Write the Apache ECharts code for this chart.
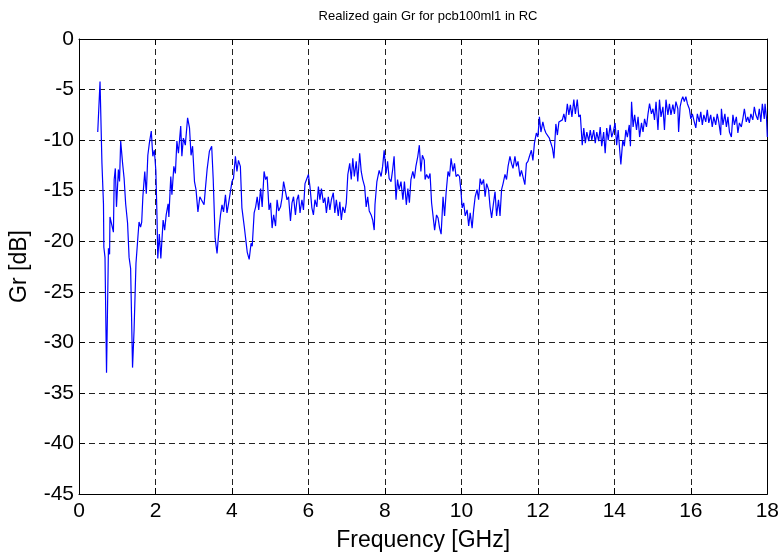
<!DOCTYPE html>
<html>
<head>
<meta charset="utf-8">
<script src="https://cdn.jsdelivr.net/npm/echarts@6/dist/echarts.min.js"></script>
<style>
  html, body { margin: 0; padding: 0; background: #fff; }
  #chart { width: 782px; height: 557px; }
</style>
</head>
<body>
<div id="chart"></div>
<script>
// Measured sweep: frequency points (GHz) and realized gain (dB)
const freqGHz = [
  0.49, 0.55, 0.6, 0.64, 0.65, 0.68, 0.72, 0.77, 0.8, 0.81, 0.86, 0.9, 0.92, 0.95, 0.98,
  1.03, 1.06, 1.09, 1.14, 1.18, 1.22, 1.27, 1.31, 1.35, 1.4, 1.44, 1.49, 1.54, 1.57, 1.61,
  1.64, 1.67, 1.72, 1.76, 1.8, 1.84, 1.89, 1.93, 1.97, 2.01, 2.04, 2.06, 2.1, 2.14, 2.2,
  2.24, 2.28, 2.33, 2.35, 2.4, 2.43, 2.48, 2.52, 2.56, 2.6, 2.66, 2.69, 2.73, 2.78, 2.84,
  2.89, 2.93, 2.97, 3.02, 3.06, 3.11, 3.16, 3.2, 3.27, 3.31, 3.35, 3.41, 3.47, 3.51, 3.56,
  3.61, 3.66, 3.7, 3.74, 3.78, 3.83, 3.87, 3.91, 3.96, 4.0, 4.04, 4.09, 4.13, 4.17, 4.22,
  4.26, 4.32, 4.4, 4.45, 4.5, 4.53, 4.58, 4.62, 4.66, 4.7, 4.75, 4.79, 4.84, 4.88, 4.92,
  4.97, 5.01, 5.05, 5.09, 5.14, 5.18, 5.22, 5.27, 5.31, 5.35, 5.4, 5.44, 5.48, 5.53, 5.57,
  5.61, 5.66, 5.7, 5.74, 5.78, 5.83, 5.87, 5.91, 5.96, 6.0, 6.04, 6.09, 6.13, 6.17, 6.22,
  6.26, 6.3, 6.34, 6.39, 6.43, 6.47, 6.52, 6.56, 6.6, 6.65, 6.69, 6.73, 6.78, 6.82, 6.86,
  6.9, 6.95, 6.99, 7.03, 7.08, 7.12, 7.16, 7.2, 7.25, 7.29, 7.34, 7.38, 7.42, 7.47, 7.51,
  7.55, 7.59, 7.64, 7.68, 7.72, 7.74, 7.79, 7.85, 7.9, 7.94, 7.98, 8.03, 8.07, 8.11, 8.16,
  8.2, 8.24, 8.29, 8.33, 8.37,
  8.42, 8.47, 8.51, 8.56, 8.6, 8.64, 8.68, 8.73, 8.77, 8.81, 8.86, 8.9, 8.94, 8.98, 9.03,
  9.05, 9.09, 9.14, 9.18, 9.22, 9.26, 9.3, 9.35, 9.39, 9.43, 9.47, 9.52, 9.56, 9.6, 9.65,
  9.69, 9.73, 9.78, 9.82, 9.86, 9.91, 9.95, 9.99, 10.02, 10.06, 10.1, 10.15, 10.19, 10.23, 10.28,
  10.32, 10.36, 10.41, 10.45, 10.49, 10.53, 10.58, 10.62, 10.66, 10.71, 10.75, 10.79, 10.84, 10.88, 10.92,
  10.97, 11.01, 11.05, 11.09, 11.14, 11.18, 11.22, 11.27, 11.31, 11.35, 11.4, 11.44, 11.48, 11.53, 11.57,
  11.61, 11.66, 11.7, 11.74, 11.78, 11.83, 11.87, 11.91, 11.96, 12.0, 12.04, 12.08, 12.13, 12.17, 12.21,
  12.25, 12.3, 12.34, 12.38, 12.42, 12.47, 12.51, 12.55,
  12.6, 12.64, 12.68, 12.72, 12.77, 12.81, 12.85, 12.89, 12.94, 12.98, 13.03, 13.07, 13.11, 13.16, 13.2,
  13.24, 13.28, 13.33, 13.37, 13.41, 13.46, 13.5, 13.54, 13.59, 13.63, 13.67, 13.72, 13.76, 13.8, 13.84,
  13.89, 13.93, 13.97, 14.02, 14.06, 14.1, 14.15, 14.17, 14.22, 14.26, 14.3, 14.34, 14.39, 14.42, 14.45,
  14.49, 14.53, 14.58, 14.62, 14.66, 14.71, 14.75, 14.79, 14.84, 14.88, 14.92, 14.97, 15.01, 15.05, 15.09,
  15.14, 15.18, 15.22, 15.27, 15.31, 15.35, 15.4, 15.44, 15.48, 15.53, 15.57, 15.61, 15.66, 15.68, 15.72,
  15.76, 15.79, 15.83, 15.87, 15.91, 15.96, 16.0, 16.04, 16.09, 16.13, 16.17, 16.22, 16.26, 16.3, 16.34,
  16.39, 16.43, 16.47, 16.52, 16.56, 16.6, 16.65, 16.69, 16.73, 16.78, 16.8, 16.84, 16.89, 16.93, 16.97,
  17.01, 17.06, 17.1, 17.14, 17.19, 17.23, 17.27, 17.32, 17.36, 17.4, 17.45, 17.49, 17.53, 17.57, 17.62,
  17.66, 17.7, 17.75, 17.79, 17.83, 17.87, 17.92, 17.94, 17.98, 18.0
];

const gainDb = [
  -9.2, -4.2, -12.3, -16.3, -20.6, -21.6, -33, -20.7, -21.3, -17.6, -17.6, -19.1, -13.9, -12.8, -16.6,
  -12.9, -14.1, -10.1, -12.3, -13.8, -16.3, -18.2, -21.6, -22.7, -32.5, -28.8, -22.2, -19.6, -18.1, -18.6,
  -18.1, -15.6, -13.1, -15.3, -11.5, -10.3, -9.1, -11.6, -11, -13, -17.6, -21.7, -19.3, -21.7, -17.9,
  -18.9, -17.4, -16.3, -17.6, -13.6, -15.4, -12.6, -13.3, -10.1, -11.3, -8.6, -11.6, -9.8, -10.5, -7.8,
  -8.8, -11.5, -10.6, -14.1, -14.9, -17.1, -15.6, -15.9, -16.4, -14.6, -12.9, -11.1, -10.6, -13.9, -19.7,
  -21.2, -18.9, -17.4, -16.4, -17.1, -15.4, -17.2, -16.3, -16.4, -14.1, -13.8, -11.6, -13.1, -12, -12.6,
  -16.7, -18.5, -21.1, -21.8, -20.2, -20.5, -17.2, -16.6, -15.6, -16.9, -14.8, -16.6, -13.1, -13.9, -13.6,
  -16.9, -16.2, -18.7, -17.4, -18.5, -15.9, -17, -16.6, -15.7, -14.1, -15.1, -15.9, -15.6, -18, -16.2,
  -15.6, -17.4, -15.9, -15.4, -17.2, -15.9, -16.9, -14.3, -13.8, -13.4, -14.6, -16.7, -17.4, -15.9, -16.6,
  -14.6, -15.9, -14.8, -16.2, -15.7, -17.2, -15.6, -16.9, -15.9, -15.2, -17.2, -15.9, -17.5, -16.1, -17.9,
  -16.6, -17.2, -16.2, -13.4, -12.3, -13.9, -11.8, -13.6, -12.1, -14.1, -11.3, -13.1, -13.9, -14.6, -16.6,
  -15.6, -17, -17.4, -17.9, -18.9, -16.4, -14.1, -13, -13.6, -12.6, -11, -13.3, -12.1, -13.8, -14.1,
  -13, -11.6, -15.9, -13.9, -14.9,
  -14.1, -15.9, -14.1, -16.4, -14.8, -16.2, -13.9, -13.1, -13.8, -12.6, -11.6, -10.5, -13.1, -11.5, -12,
  -13.9, -13.4, -13.8, -13.3, -16.2, -16.1, -18.9, -17.4, -17.7, -18.7, -19.3, -15.6, -17.5, -15.2, -13.1,
  -13.6, -11.8, -13.1, -12.3, -13.6, -13.4, -13.6, -15.1, -16.7, -16.2, -17.5, -16.9, -18.5, -17.2, -18.7,
  -16.9, -15.6, -14.9, -15.9, -13.8, -14.4, -13.9, -15.6, -14.3, -14.9, -16.6, -17.7, -16.2, -15.1, -17.5,
  -15.9, -17.5, -14.9, -14.3, -13.4, -13.9, -12.6, -11.6, -12.3, -12.8, -11.6, -12.6, -12.1, -13.6, -13,
  -13.1, -14.4, -12.3, -12.1, -11.6, -11, -12, -10.3, -9.3, -9.7, -7.7, -9.2, -8.2, -8.9, -9.3,
  -9.2, -9.8, -10.3, -10.8, -11.8, -8.4, -9.5, -8.2,
  -8.2, -8, -7.4, -8.2, -6.4, -7.5, -6.5, -7.7, -6, -7.4, -6, -7.7, -7.5, -10.5, -8.8,
  -10.3, -9.2, -10.1, -9, -10, -9, -10.3, -9.2, -10.1, -8.7, -10.6, -9.2, -11.3, -8.8, -10,
  -8.5, -9.7, -9.2, -8.3, -10.5, -9, -11.5, -12.4, -10, -10.6, -9, -9.7, -8.5, -10.6, -6.2,
  -8.7, -7.5, -9, -7.7, -9.7, -8.3, -9.2, -7.9, -8.7, -7.4, -6.4, -7.4, -6.9, -8, -6.2,
  -9, -6, -7.7, -6.7, -9, -6, -7.5, -6.4, -7.5, -6.5, -7.4, -6.2, -6.9, -9.2, -6.7,
  -6, -5.7, -6.2, -5.7, -6.4, -6.9, -7.9, -7.4, -8.2, -8.8, -7.4, -8.2, -7.2, -8.5, -7.5,
  -8.2, -7, -8.3, -7.5, -8.7, -7.7, -8.5, -7.4, -8.2, -9.5, -6.9, -8.5, -7.4, -8.7, -7.7,
  -9.2, -9.7, -7.5, -8.5, -7.7, -9.3, -8.3, -8.7, -7.9, -6.9, -8.2, -7.7, -8.3, -7.4, -8,
  -6.7, -7.5, -8, -6.9, -8.2, -6.4, -7.9, -6.4, -7.9, -9.7
];

const xTicks = { min: 0, max: 18, step: 2 };
const yTicks = { min: -45, max: 0, step: 5 };

const titleText = 'Realized gain Gr for pcb100ml1 in RC';
const xName = 'Frequency [GHz]';
const yName = 'Gr [dB]';

const points = freqGHz.map((f, i) => [f, gainDb[i]]);

const FONT = '"Liberation Sans", Arial, Helvetica, sans-serif';
const boxLine = { show: true, onZero: false, lineStyle: { color: '#000', width: 1 } };
const innerTick = { show: true, inside: true, length: 6, lineStyle: { color: '#000', width: 1 } };
const dashedGrid = { show: true, lineStyle: { color: '#222', width: 1, type: [6, 4] } };

const chart = echarts.init(document.getElementById('chart'), null, { renderer: 'canvas' });
chart.setOption({
  animation: false,
  backgroundColor: '#fff',
  title: {
    text: titleText,
    left: 423,
    textAlign: 'center',
    top: 5,
    textStyle: { fontFamily: FONT, fontSize: 13, fontWeight: 'normal', color: '#000' }
  },
  grid: { left: 76, right: 13, top: 39, bottom: 57, containLabel: false },
  xAxis: [
    {
      type: 'value', position: 'bottom',
      min: xTicks.min, max: xTicks.max, interval: xTicks.step,
      axisLine: boxLine, axisTick: innerTick, splitLine: dashedGrid,
      axisLabel: { fontFamily: FONT, fontSize: 21, color: '#000', margin: 7 },
      name: xName, nameLocation: 'middle', nameGap: 35,
      nameTextStyle: { fontFamily: FONT, fontSize: 23, color: '#000' }
    },
    {
      type: 'value', position: 'top',
      min: xTicks.min, max: xTicks.max, interval: xTicks.step,
      axisLine: boxLine, axisTick: innerTick, splitLine: { show: false },
      axisLabel: { show: false }
    }
  ],
  yAxis: [
    {
      type: 'value', position: 'left',
      min: yTicks.min, max: yTicks.max, interval: yTicks.step,
      axisLine: boxLine, axisTick: innerTick, splitLine: dashedGrid,
      axisLabel: { fontFamily: FONT, fontSize: 21, color: '#000', margin: 5 },
      name: yName, nameLocation: 'middle', nameGap: 48, nameRotate: 90,
      nameTextStyle: { fontFamily: FONT, fontSize: 23, color: '#000' }
    },
    {
      type: 'value', position: 'right',
      min: yTicks.min, max: yTicks.max, interval: yTicks.step,
      axisLine: boxLine, axisTick: innerTick, splitLine: { show: false },
      axisLabel: { show: false }
    }
  ],
  series: [
    {
      type: 'line',
      xAxisIndex: 0, yAxisIndex: 0,
      data: points,
      showSymbol: false,
      symbol: 'none',
      lineStyle: { color: '#0000ff', width: 1.2 },
      z: 3
    }
  ]
});
</script>
</body>
</html>
